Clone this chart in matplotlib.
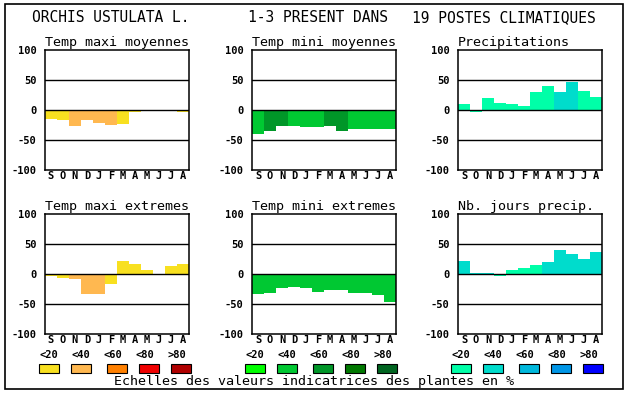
import matplotlib
matplotlib.use("Agg")
import matplotlib.pyplot as plt
import numpy as np
from matplotlib.patches import Rectangle

# ---------------------------------------------------------------------------
# Data
# ---------------------------------------------------------------------------
MONTHS = ["S", "O", "N", "D", "J", "F", "M", "A", "M", "J", "J", "A"]

TITLES = [
    "Temp maxi moyennes", "Temp mini moyennes", "Precipitations",
    "Temp maxi extremes", "Temp mini extremes", "Nb. jours precip.",
]

tmax_moy = [-15, -17, -27, -17, -22, -25, -24, -3, 0, 0, 0, -3]
tmin_moy = [-40, -35, -27, -26, -28, -28, -26, -35, -32, -32, -32, -32]
precip = [10, -3, 20, 12, 10, 7, 30, 40, 30, 47, 32, 22]
tmax_ext = [-3, -6, -8, -34, -34, -17, 22, 17, 7, 0, 14, 17]
tmin_ext = [-33, -32, -24, -21, -24, -30, -27, -27, -32, -32, -35, -47]
nb_jours = [22, 2, 2, -4, 7, 10, 15, 20, 40, 33, 25, 37]

# colour class (index into the panel's scale) for every bar
tmax_moy_cls = [0, 0, 1, 1, 1, 1, 0, 0, 0, 0, 0, 0]
tmin_moy_cls = [1, 2, 2, 1, 1, 1, 2, 2, 1, 1, 1, 1]
precip_cls = [0, 0, 0, 0, 0, 0, 0, 0, 1, 1, 0, 0]
tmax_ext_cls = [0, 0, 1, 1, 1, 0, 0, 0, 0, 0, 0, 0]
tmin_ext_cls = [1] * 12
nb_jours_cls = [1, 1, 1, 0, 0, 0, 0, 1, 1, 1, 1, 1]

SCALE_LABELS = ["<20", "<40", "<60", "<80", ">80"]
WARM = ["#f8e020", "#ffb850", "#ff8000", "#f00000", "#b00000"]
GREEN = ["#00ff00", "#00c832", "#009628", "#007800", "#006420"]
BLUE = ["#00ffa8", "#00dccc", "#00b8dc", "#0096e6", "#0000ff"]

VALUES = [tmax_moy, tmin_moy, precip, tmax_ext, tmin_ext, nb_jours]
CLASSES = [tmax_moy_cls, tmin_moy_cls, precip_cls, tmax_ext_cls, tmin_ext_cls, nb_jours_cls]
PALETTES = [WARM, GREEN, BLUE, WARM, GREEN, BLUE]

# ---------------------------------------------------------------------------
# Layout (pixels in a 630x394 canvas)
# ---------------------------------------------------------------------------
W, H = 630, 394
COL_LEFT = [45, 252, 458]
ROW_TOP = [50, 214]
AX_W, AX_H = 144, 120
MONO = "DejaVu Sans Mono"
TICK_FS = 7.5


def px(x, y):
    """pixel (from top-left) -> figure fraction"""
    return x / W, 1 - y / H


fig = plt.figure(figsize=(W / 100, H / 100), dpi=100)
fig.patch.set_facecolor("white")

fig.patches.append(Rectangle(px(5, 389), 618 / W, 385 / H, transform=fig.transFigure,
                             fill=False, edgecolor="black", linewidth=1.2))

fig.text(*px(111, 18), "ORCHIS USTULATA L.", family=MONO, fontsize=10.5,
         ha="center", va="center")
fig.text(*px(318, 18), "1-3 PRESENT DANS", family=MONO, fontsize=10.5,
         ha="center", va="center")
fig.text(*px(504, 18), "19 POSTES CLIMATIQUES", family=MONO, fontsize=10.5,
         ha="center", va="center")

for i, (vals, cls, pal, title) in enumerate(zip(VALUES, CLASSES, PALETTES, TITLES)):
    row, col = divmod(i, 3)
    left, top = COL_LEFT[col], ROW_TOP[row]
    ax = fig.add_axes([left / W, 1 - (top + AX_H) / H, AX_W / W, AX_H / H])
    x = np.arange(len(MONTHS))
    ax.bar(x, vals, width=1.0, color=[pal[c] for c in cls], linewidth=0, zorder=1)
    for yy in (-50, 0, 50):
        ax.axhline(yy, color="black", linewidth=1.0, zorder=3)
    ax.set_xlim(-0.5, 11.5)
    ax.set_ylim(-100, 100)
    ax.set_yticks([-100, -50, 0, 50, 100])
    ax.set_yticklabels(["-100", "-50", "0", "50", "100"], family=MONO,
                       fontweight="bold", fontsize=TICK_FS)
    ax.set_xticks(x)
    ax.set_xticklabels(MONTHS, family=MONO, fontweight="bold", fontsize=TICK_FS)
    ax.tick_params(axis="y", length=0, pad=6)
    ax.tick_params(axis="x", length=0, pad=1)
    for s in ax.spines.values():
        s.set_linewidth(1.1)
        s.set_zorder(4)
    ax.set_title(title, family=MONO, fontsize=9.6, pad=3, loc="left")

# colour scales under the bottom row
BOX_X = [
    [39, 71, 107, 139, 171],
    [245, 277, 313, 345, 377],
    [451, 483, 519, 551, 583],
]
LABEL_X = [
    [49, 81, 113, 145, 177],
    [255, 287, 319, 351, 383],
    [461, 493, 525, 557, 589],
]
for pal, bxs, lxs in zip([WARM, GREEN, BLUE], BOX_X, LABEL_X):
    for c, bx, lx, lab in zip(pal, bxs, lxs, SCALE_LABELS):
        fig.patches.append(Rectangle(px(bx, 373), 20 / W, 9 / H,
                                     transform=fig.transFigure, facecolor=c,
                                     edgecolor="black", linewidth=0.8))
        fig.text(*px(lx, 355), lab, family=MONO, fontweight="bold", fontsize=TICK_FS,
                 ha="center", va="center")

fig.text(*px(314, 382), "Echelles des valeurs indicatrices des plantes en %",
         family=MONO, fontsize=9.6, ha="center", va="center")

fig.savefig("out.png", dpi=100)
